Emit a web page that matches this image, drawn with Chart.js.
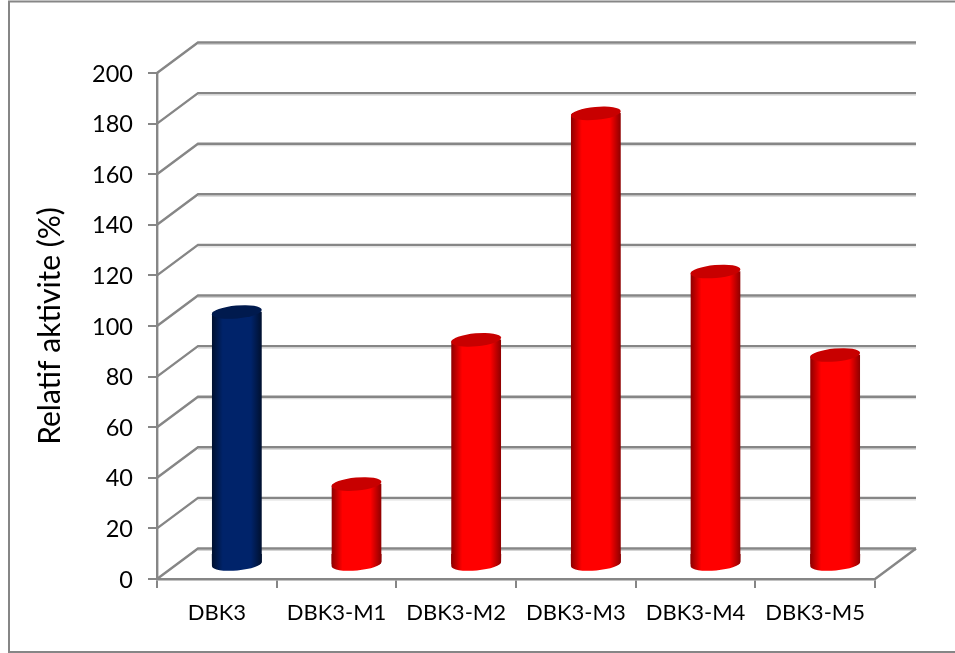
<!DOCTYPE html>
<html>
<head>
<meta charset="utf-8">
<style>
  html, body { margin: 0; padding: 0; background: #fff; }
  canvas { display: block; }
</style>
<script src="https://cdn.jsdelivr.net/npm/chart.js@4"></script>
</head>
<body>
<canvas id="activityChart" width="955" height="653"></canvas>
<script>
const categories = ['DBK3', 'DBK3-M1', 'DBK3-M2', 'DBK3-M3', 'DBK3-M4', 'DBK3-M5'];
const activity = [100, 32, 89, 178.5, 116, 83];
const yTicks = [0, 20, 40, 60, 80, 100, 120, 140, 160, 180, 200];
const yTitle = 'Relatif aktivite (%)';

const FONT = 'Lato, "Open Sans", sans-serif';
const GRID = '#868686';
// depth of the fake 3D box, and where the cylinders stand inside it
const DEPTH_X = 41, DEPTH_Y = -30.5;
const BAR_DX = 20, BAR_DY = -14;
const TILT = -0.09, CAP_RY = 6.5;

const navy = { edge: '#00102e', mid: '#00236a', cap: '#001a4e' };
const red = { edge: '#8c0000', mid: '#ff0000', cap: '#c80000' };
const paletteFor = i => (i === 0 ? navy : red);

function bodyGradient(ctx, cx, half, colors) {
  const g = ctx.createLinearGradient(cx - half, 0, cx + half, 0);
  g.addColorStop(0, colors.edge);
  g.addColorStop(0.22, colors.mid);
  g.addColorStop(0.78, colors.mid);
  g.addColorStop(1, colors.edge);
  return g;
}

// outline of a whole cylinder: lower half of the foot, then upper half of the cap
function cylinderPath(ctx, bar) {
  const rx = bar.width / 2;
  ctx.moveTo(bar.x - rx * Math.cos(TILT), bar.base - rx * Math.sin(TILT));
  ctx.ellipse(bar.x, bar.base, rx, CAP_RY, TILT, Math.PI, 0, true);
  ctx.ellipse(bar.x, bar.y, rx, CAP_RY, TILT, 0, Math.PI, true);
  ctx.closePath();
}

const box3d = {
  id: 'box3d',
  beforeDraw(chart) {
    const { ctx, scales: { x, y } } = chart;
    ctx.save();
    // frame runs off the right edge of the canvas
    ctx.strokeStyle = GRID;
    ctx.lineWidth = 2;
    ctx.beginPath();
    ctx.moveTo(955, 1.5);
    ctx.lineTo(9, 1.5);
    ctx.lineTo(9, 652);
    ctx.lineTo(955, 652);
    ctx.stroke();
    yTicks.forEach(v => {
      const py = y.getPixelForValue(v);
      // faint shadow under each back wall line
      ctx.strokeStyle = '#d4d4d4';
      ctx.lineWidth = 1;
      ctx.beginPath();
      ctx.moveTo(x.left + DEPTH_X, py + DEPTH_Y + 2);
      ctx.lineTo(x.right + DEPTH_X, py + DEPTH_Y + 2);
      ctx.stroke();
      // back wall line with its slanted return to the axis
      ctx.strokeStyle = GRID;
      ctx.lineWidth = 2.4;
      ctx.beginPath();
      ctx.moveTo(x.left, py);
      ctx.lineTo(x.left + DEPTH_X, py + DEPTH_Y);
      ctx.lineTo(x.right + DEPTH_X, py + DEPTH_Y);
      ctx.stroke();
    });
    // floor edge on the right
    const py0 = y.getPixelForValue(0);
    ctx.beginPath();
    ctx.moveTo(x.right, py0);
    ctx.lineTo(x.right + DEPTH_X, py0 + DEPTH_Y);
    ctx.stroke();
    ctx.restore();
  },
  beforeDatasetsDraw(chart) {
    const { ctx } = chart;
    ctx.save();
    ctx.translate(BAR_DX, BAR_DY);
    ctx.beginPath();
    chart.getDatasetMeta(0).data.forEach(bar => cylinderPath(ctx, bar));
    ctx.clip();
  },
  afterDatasetsDraw(chart) {
    const { ctx } = chart;
    ctx.restore();
    ctx.save();
    ctx.translate(BAR_DX, BAR_DY);
    chart.getDatasetMeta(0).data.forEach((bar, i) => {
      const colors = paletteFor(i);
      // rounded foot below the native bar
      ctx.fillStyle = bodyGradient(ctx, bar.x, bar.width / 2, colors);
      ctx.beginPath();
      ctx.ellipse(bar.x, bar.base, bar.width / 2, CAP_RY, TILT, 0, Math.PI);
      ctx.lineTo(bar.x - bar.width / 2, bar.base - 10);
      ctx.lineTo(bar.x + bar.width / 2, bar.base - 10);
      ctx.closePath();
      ctx.fill();
      // top face
      ctx.fillStyle = colors.cap;
      ctx.beginPath();
      ctx.ellipse(bar.x, bar.y, bar.width / 2, CAP_RY, TILT, 0, Math.PI * 2);
      ctx.fill();
    });
    ctx.restore();
  }
};

new Chart(document.getElementById('activityChart'), {
  type: 'bar',
  data: {
    labels: categories,
    datasets: [{
      data: activity,
      barThickness: 50,
      borderWidth: 0,
      backgroundColor(c) {
        const cx = c.chart.scales.x ? c.chart.scales.x.getPixelForValue(c.dataIndex) : NaN;
        if (!Number.isFinite(cx)) return red.mid;
        return bodyGradient(c.chart.ctx, cx, 25, paletteFor(c.dataIndex));
      }
    }]
  },
  options: {
    responsive: false,
    animation: false,
    layout: { padding: { top: 73, right: 80, bottom: 0, left: 0 } },
    plugins: { legend: { display: false }, tooltip: { enabled: false } },
    scales: {
      x: {
        afterFit(scale) { scale.height = 74; },
        border: { color: GRID, width: 2.4 },
        grid: { drawOnChartArea: false, color: GRID, lineWidth: 2, tickLength: 9 },
        ticks: { color: '#000', font: { family: FONT, size: 22 }, padding: 12, maxRotation: 0, autoSkip: false }
      },
      y: {
        min: 0,
        max: 200,
        afterFit(scale) { scale.width = 157; },
        afterBuildTicks(scale) { scale.ticks = yTicks.map(value => ({ value })); },
        border: { color: GRID, width: 2.4 },
        grid: { drawOnChartArea: false, color: GRID, lineWidth: 2, tickLength: 9 },
        ticks: { color: '#000', font: { family: FONT, size: 23.5 }, padding: 15, labelOffset: 1 },
        title: {
          display: true,
          text: yTitle,
          color: '#000',
          font: { family: FONT, size: 30, weight: 'normal' },
          padding: { top: 32, bottom: 0 }
        }
      }
    }
  },
  plugins: [box3d]
});
</script>
</body>
</html>
